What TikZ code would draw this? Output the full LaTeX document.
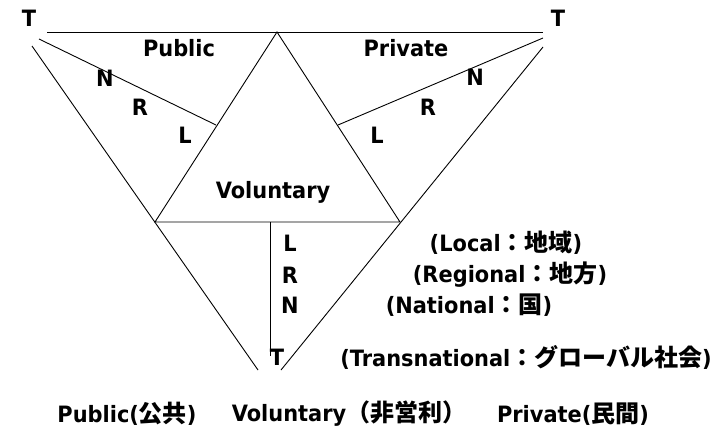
\documentclass[tikz,border=0pt]{standalone}
\usepackage{fontspec}
\setmainfont{DejaVu Sans}[FakeStretch=0.93]
\newfontfamily\jpfont{Noto Sans CJK JP}
\newcommand{\J}[1]{{\jpfont\bfseries\fontsize{24}{27}\selectfont #1}}
\begin{document}
\begin{tikzpicture}[x=1pt,y=-1pt,
  lbl/.style={font=\bfseries\fontsize{22.5}{26}\selectfont, inner sep=0pt},
  ln/.style={line width=0.9pt, black}]
\useasboundingbox (0,0) rectangle (719,429);
% key points
\coordinate (topL) at (47,32);
\coordinate (topR) at (543,32);
\coordinate (apex) at (277,32);
\coordinate (baseL) at (155,222);
\coordinate (baseR) at (400,222);
\coordinate (outLtop) at (32,46);
\coordinate (outLbot) at (258,370);
\coordinate (outRtop) at (543,47);
\coordinate (outRbot) at (281,370);
\coordinate (pubS) at (39,39);
\coordinate (pubE) at (216,125);
\coordinate (priS) at (543,38);
\coordinate (priE) at (338,125);
\coordinate (vTop) at (270,222);
\coordinate (vBot) at (270,356);
% lines
\draw[ln] (topL) -- (topR);
\draw[ln] (apex) -- (baseL) -- (baseR) -- cycle;
\draw[ln] (outLtop) -- (outLbot);
\draw[ln] (outRtop) -- (outRbot);
\draw[ln] (pubS) -- (pubE);
\draw[ln] (priS) -- (priE);
\draw[ln] (vTop) -- (vBot);
% labels
\node[lbl] (tl) at (29,18) {T};
\node[lbl] (tr) at (558,18) {T};
\node[lbl] (pub) at (179,48) {Public};
\node[lbl] (pri) at (406,48) {Private};
\node[lbl] (lN) at (105,78) {N};
\node[lbl] (lR) at (140,107) {R};
\node[lbl] (lL) at (185,135) {L};
\node[lbl] (rN) at (475,77) {N};
\node[lbl] (rR) at (428,107) {R};
\node[lbl] (rL) at (377,135) {L};
\node[lbl] (vol) at (273,192) {Voluntary};
\node[lbl] (cL) at (290,243) {L};
\node[lbl] (cR) at (290,275) {R};
\node[lbl] (cN) at (290,305) {N};
\node[lbl] (cT) at (277,357) {T};
\node[lbl] (loc) at (506,243) {(Local\J{：地域})};
\node[lbl] (reg) at (510,275) {(Regional\J{：地方})};
\node[lbl] (nat) at (469,305) {(National\J{：国})};
\node[lbl] (tra) at (526,357) {(Transnational\J{：グローバル社会})};
\node[lbl] (bPub) at (127,414) {Public(\J{公共})};
\node[lbl] (bVol) at (349,414) {Voluntary\J{（非営利）}};
\node[lbl] (bPri) at (573,414) {Private(\J{民間})};
\end{tikzpicture}
\end{document}
